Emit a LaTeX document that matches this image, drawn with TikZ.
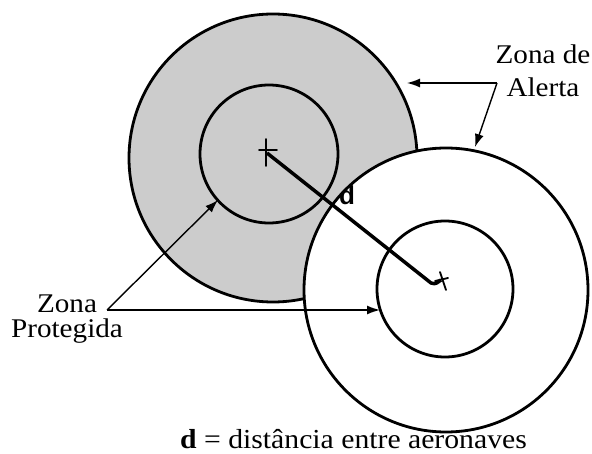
\documentclass[tikz,border=0pt]{standalone}
\usepackage{fontspec}
\setmainfont{Liberation Serif}[FakeStretch=1.08]
\newfontfamily\dsans{Liberation Sans}
\usetikzlibrary{arrows.meta}
\begin{document}
\begin{tikzpicture}[x=1pt,y=-1pt,
  ring/.style={line width=2.8pt,draw=black},
  ptr/.style={line width=1.4pt,-{Latex[length=13pt,width=9pt]}},
  lbl/.style={inner sep=0pt,align=center,font=\fontsize{27}{25}\selectfont},
  plane/.style={line width=1.8pt,line cap=round}]
\useasboundingbox[fill=white] (0,0) rectangle (592,454);
% aircraft 1 zones
\fill[black!20] (273,158) circle[radius=144];
\draw[ring] (273,158) circle[radius=144];
\draw[ring] (269,154) circle[radius=69];
% aircraft 2 zones
\fill[white] (446,290) circle[radius=142];
\draw[ring] (446,290) circle[radius=142];
\draw[ring] (445,289) circle[radius=68];
% aircraft
\coordinate (a1) at (267,153);
\coordinate (a2) at (441,280);
\coordinate (bend) at (431,283);
\draw[plane] (266,139) -- (266,166) (259,150) -- (277,150);
\draw[plane] (440,272) -- (446,290) (435,281) -- (448,278);
% distance line
\draw[line width=3.5pt] (a1) -- (bend) .. controls (436,285) and (438,282) .. (a2);
\node[font=\dsans\bfseries\fontsize{26}{26}\selectfont,inner sep=0pt] (d) at (347,195) {d};
% labels
\node[lbl,anchor=base] (alerta) at (543,97) {Zona de\\[8pt]Alerta};
\node[lbl,anchor=base] (prot) at (67,338) {Zona\\Protegida};
\coordinate (pa) at (497,83);
\coordinate (pp) at (107,310);
\draw[ptr] (pa) -- (407,83);
\draw[ptr] (pa) -- (475,147);
\draw[ptr] (pp) -- (218,200);
\draw[ptr] (pp) -- (380,310);
\node[inner sep=0pt,anchor=base west,font=\fontsize{27.5}{30}\selectfont] (cap) at (180,448) {\textbf{d} = distância entre aeronaves};
\end{tikzpicture}
\end{document}
